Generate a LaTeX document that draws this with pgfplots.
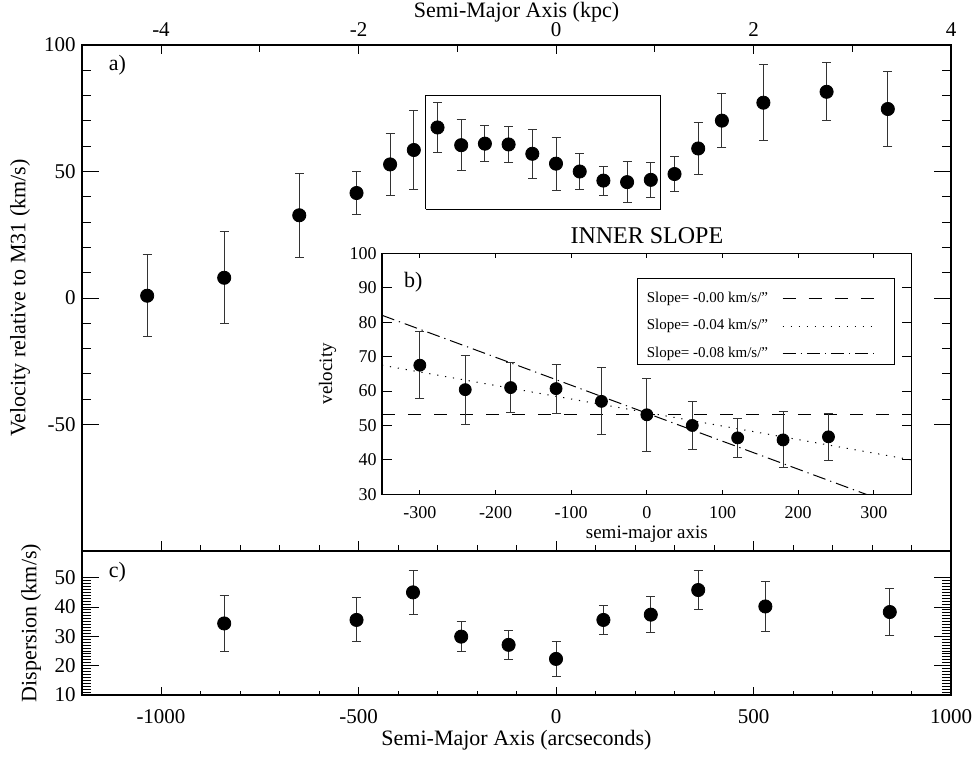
\documentclass[border=0pt]{standalone}
\usepackage{fontspec}
\setmainfont{Liberation Serif}
\usepackage{pgfplots}
\pgfplotsset{compat=1.18}
\pgfplotsset{
  mybase/.style={scale only axis, anchor=south west,
    axis line style={line width=0.6pt}, tick style={line width=0.5pt, black},
    tick align=inside,
    /pgf/number format/assume math mode=true, /pgf/number format/1000 sep={},
    scaled ticks=false,
    tick label style={font=\fontsize{10.5}{12}\selectfont},
    label style={font=\fontsize{11}{13}\selectfont}},
  errstyle/.style={only marks, mark=*, mark size=3.3pt, mark options={fill=black, draw=black, solid},
    error bars/y dir=both, error bars/y explicit,
    error bars/error bar style={line width=0.5pt, black!80, solid},
    error bars/error mark options={rotate=90, mark size=2.25pt, line width=0.5pt, black!80}},
}
\begin{document}
\begin{tikzpicture}
\useasboundingbox (0pt,0pt) rectangle (488.5pt,378.5pt);

% ---------------- panel a (velocity) ----------------
\begin{axis}[mybase, at={(41pt,103pt)}, width=434.5pt, height=253pt,
  xmin=-1200, xmax=1000, ymin=-100, ymax=100,
  xtick=\empty, ytick={-50,0,50,100}, minor y tick num=4,
  ytick pos=both, yticklabel pos=left,
  major tick length=8.5pt, minor tick length=4.5pt,
  yticklabel style={anchor=east, inner sep=0pt, xshift=-3pt},
  ylabel={Velocity relative to M31 (km/s)},
  ylabel style={at={(axis description cs:-0.0713,0.5)}, anchor=center}]
\addplot[errstyle] coordinates {
  (-1035,0.9) +- (0,16.2)
  (-840,8.0) +- (0,18.2)
  (-650,32.7) +- (0,16.7)
  (-505,41.5) +- (0,8.65)
  (-420,52.8) +- (0,12.3)
  (-360,58.5) +- (0,15.5)
  (-300,67.4) +- (0,9.7)
  (-240,60.4) +- (0,10.0)
  (-180,61.0) +- (0,7.2)
  (-120,60.7) +- (0,7.0)
  (-60,57.0) +- (0,9.6)
  (0,53.1) +- (0,10.5)
  (60,50.0) +- (0,7.0)
  (120,46.4) +- (0,5.7)
  (180,45.8) +- (0,8.1)
  (240,46.7) +- (0,6.9)
  (300,49.0) +- (0,6.8)
  (360,59.1) +- (0,10.3)
  (420,70.1) +- (0,10.7)
  (525,77.2) +- (0,15.1)
  (685,81.5) +- (0,11.5)
  (840,74.7) +- (0,14.7)
};
\addplot[black, line width=0.5pt, no marks] coordinates {(-330,35) (265,35) (265,80) (-330,80) (-330,35)};
\node[anchor=base west, font=\fontsize{11}{13}\selectfont] at (axis cs:-1150,90) {a)};
\end{axis}
% bottom x ticks of panel a
\begin{axis}[mybase, at={(41pt,103pt)}, width=434.5pt, height=253pt,
  xmin=-1200, xmax=1000, ymin=-100, ymax=100,
  ytick=\empty, xtick={-1000,-500,0,500,1000}, minor x tick num=4,
  xtick pos=left, xticklabels={},
  major tick length=5pt, minor tick length=3pt]
\end{axis}
% top kpc axis
\begin{axis}[mybase, at={(41pt,103pt)}, width=434.5pt, height=253pt,
  xmin=-4.8, xmax=4, ymin=-100, ymax=100,
  ytick=\empty, xtick={-4,-2,0,2,4}, minor x tick num=1,
  xtick pos=right, xticklabel pos=right,
  major tick length=4.65pt, minor tick length=3.35pt,
  xticklabel style={anchor=base, yshift=4pt},
  xlabel={Semi-Major Axis (kpc)},
  xlabel style={at={(axis description cs:0.5,1)}, anchor=base, yshift=13.5pt}]
\end{axis}

% ---------------- panel c (dispersion) ----------------
\begin{axis}[mybase, at={(41pt,31pt)}, width=434.5pt, height=72pt,
  xmin=-1200, xmax=1000, ymin=10, ymax=59.1,
  xtick=\empty, ytick={10,20,30,40,50}, minor y tick num=9,
  ytick pos=both, yticklabel pos=left,
  major tick length=8.5pt, minor tick length=4.5pt,
  yticklabel style={anchor=east, inner sep=0pt, xshift=-3pt},
  ylabel={Dispersion (km/s)},
  ylabel style={at={(axis description cs:-0.0587,0.5)}, anchor=center}]
\addplot[errstyle] coordinates {
  (-840,34.4) +- (0,9.4)
  (-505,35.6) +- (0,7.5)
  (-362,45.0) +- (0,7.4)
  (-240,29.9) +- (0,5.0)
  (-120,27.1) +- (0,4.9)
  (0,22.3) +- (0,6.0)
  (120,35.6) +- (0,4.95)
  (240,37.4) +- (0,6.15)
  (360,45.8) +- (0,6.7)
  (530,40.2) +- (0,8.4)
  (845,38.3) +- (0,8.1)
};
\draw[line width=1pt] (rel axis cs:0,1) -- (rel axis cs:1,1);
\node[anchor=base west, font=\fontsize{11}{13}\selectfont] at (axis cs:-1150,50) {c)};
\end{axis}
\begin{axis}[mybase, at={(41pt,31pt)}, width=434.5pt, height=72pt,
  xmin=-1200, xmax=1000, ymin=10, ymax=59.1,
  ytick=\empty, xtick={-1000,-500,0,500,1000}, minor x tick num=4,
  xticklabels={-1000,-500,0,500,1000},
  xtick pos=left, xticklabel pos=left,
  major tick length=4pt, minor tick length=2.2pt,
  xticklabel style={anchor=base, yshift=-14pt},
  xlabel={Semi-Major Axis (arcseconds)},
  xlabel style={at={(axis description cs:0.5,0)}, anchor=base, yshift=-25pt}]
\end{axis}

% ---------------- inset b ----------------
\begin{axis}[mybase, at={(191pt,131.35pt)}, width=264.85pt, height=120.5pt,
  xmin=-350, xmax=350, ymin=30, ymax=100,
  axis background/.style={fill=white},
  xtick=\empty, ytick={30,40,...,100},
  ytick pos=both, yticklabel pos=left,
  major tick length=5pt,
  tick label style={font=\fontsize{9}{11}\selectfont},
  label style={font=\fontsize{9.5}{11}\selectfont},
  yticklabel style={anchor=east, inner sep=0pt, xshift=-2.5pt},
  ylabel={velocity},
  ylabel style={at={(axis description cs:-0.1029,0.5)}, anchor=center},
  title={INNER SLOPE},
  title style={at={(axis description cs:0.5,1)}, anchor=base, yshift=-1pt, font=\fontsize{12}{14}\selectfont},
  legend plot pos=right,
  legend image code/.code={\draw[#1] (0pt,0pt) -- (46pt,0pt);},
  legend style={at={(0.484,0.883)}, anchor=north west, draw=none, fill=none,
    font=\fontsize{7.5}{9}\selectfont, inner xsep=2pt, inner ysep=3pt, row sep=3pt,
    column sep=5pt, cells={anchor=west}}]
\addplot[black, line width=0.5pt, no marks, dash pattern=on 6.5pt off 6.5pt] coordinates {(-350,53.3) (350,53.3)};
\addlegendentry{Slope= -0.00 km/s/\symbol{34}\hspace{9pt}}
\addplot[black, line width=0.5pt, no marks, dash pattern=on 0.6pt off 3.4pt] coordinates {(-350,67.5) (350,40.0)};
\addlegendentry{Slope= -0.04 km/s/\symbol{34}\hspace{9pt}}
\addplot[black, line width=0.5pt, no marks, dash pattern=on 6.5pt off 2.5pt on 0.6pt off 2.5pt] coordinates {(-350,82.0) (350,25.1)};
\addlegendentry{Slope= -0.08 km/s/\symbol{34}\hspace{9pt}}
\addplot[black, line width=0.5pt, no marks, forget plot] coordinates {(-12.6,67.7) (327.9,67.7) (327.9,92.7) (-12.6,92.7) (-12.6,67.7)};
\addplot[errstyle, mark size=3pt, forget plot] coordinates {
  (-300,67.5) +- (0,9.75)
  (-240,60.4) +- (0,10.0)
  (-180,61.0) +- (0,7.25)
  (-120,60.7) +- (0,7.1)
  (-60,57.0) +- (0,9.7)
  (0,53.1) +- (0,10.55)
  (60,50.0) +- (0,6.95)
  (120,46.4) +- (0,5.7)
  (180,45.8) +- (0,8.15)
  (240,46.7) +- (0,6.85)
};
\node[anchor=base west, font=\fontsize{11}{13}\selectfont] at (axis cs:-330,90) {b)};
\end{axis}
\begin{axis}[mybase, at={(191pt,131.35pt)}, width=264.85pt, height=120.5pt,
  xmin=-350, xmax=350, ymin=30, ymax=100,
  ytick=\empty, xtick={-300,-200,...,300},
  xtick pos=both, xticklabel pos=left,
  major tick length=2.2pt,
  tick label style={font=\fontsize{9}{11}\selectfont},
  label style={font=\fontsize{9.5}{11}\selectfont},
  xticklabel style={anchor=base, yshift=-12pt},
  xlabel={semi-major axis},
  xlabel style={at={(axis description cs:0.5,0)}, anchor=base, yshift=-22.3pt}]
\end{axis}
\end{tikzpicture}
\end{document}
